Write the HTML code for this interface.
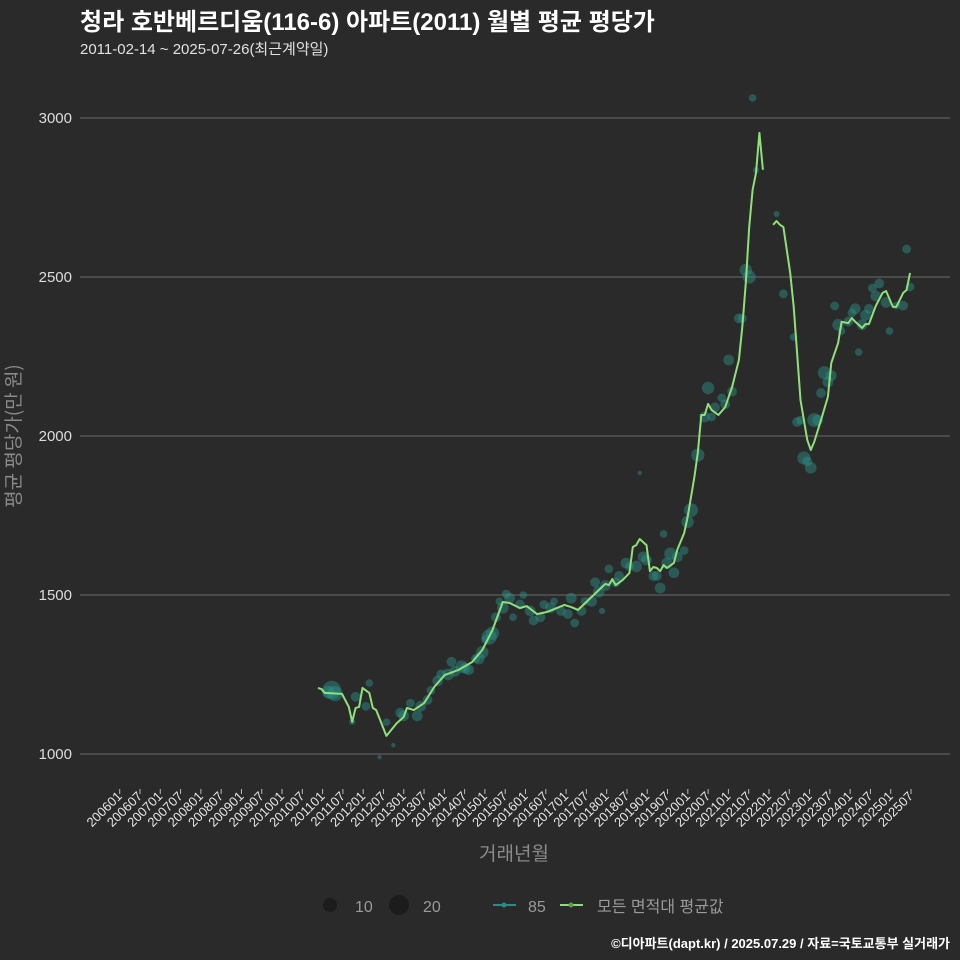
<!DOCTYPE html>
<html><head><meta charset="utf-8">
<style>
html,body{margin:0;padding:0;background:#2b2a2b;}
svg{display:block;font-family:"Liberation Sans","Noto Sans CJK KR",sans-serif;}
</style></head>
<body>
<svg id="chart" width="960" height="960" viewBox="0 0 960 960">
<rect width="960" height="960" fill="#2b2a2b"/>
<text x="80" y="30" fill="#ffffff" font-size="24" font-weight="bold">청라 호반베르디움(116-6) 아파트(2011) 월별 평균 평당가</text>
<text x="80" y="54" fill="#e0e0e0" font-size="15">2011-02-14 ~ 2025-07-26(최근계약일)</text>
<g id="grid"></g>
<g id="yticks"></g>
<g id="xticks"></g>
<g id="bubbles"></g>
<g id="lines"></g>
<text transform="translate(20,436) rotate(-90)" text-anchor="middle" fill="#8a8a8a" font-size="19" font-family="Noto Sans CJK KR, sans-serif">평균 평당가(만 원)</text>
<text x="514" y="860" text-anchor="middle" fill="#8a8a8a" font-size="19">거래년월</text>
<g>
<circle cx="330" cy="905" r="7" fill="#1c1c1c"/>
<text x="355" y="912" fill="#9a9a9a" font-size="16">10</text>
<circle cx="399" cy="905" r="10" fill="#1c1c1c"/>
<text x="423" y="912" fill="#9a9a9a" font-size="16">20</text>
<line x1="493" y1="905" x2="516" y2="905" stroke="#21908d" stroke-width="2"/>
<circle cx="504" cy="905" r="2.5" fill="#21908d"/>
<text x="528" y="912" fill="#9a9a9a" font-size="16">85</text>
<line x1="560" y1="905" x2="583" y2="905" stroke="#8fe07a" stroke-width="2"/>
<circle cx="571" cy="905" r="2.5" fill="#5aa04a"/>
<text x="597" y="912" fill="#9a9a9a" font-size="16">모든 면적대 평균값</text>
</g>
<text x="950" y="948" text-anchor="end" fill="#ffffff" font-size="13" font-weight="bold">©디아파트(dapt.kr) / 2025.07.29 / 자료=국토교통부 실거래가</text>
</svg>
<script>
const yTicks = [1000, 1500, 2000, 2500, 3000];
const xTickLabels = ["200601","200607","200701","200707","200801","200807","200901","200907","201001","201007","201101","201107","201201","201207","201301","201307","201401","201407","201501","201507","201601","201607","201701","201707","201801","201807","201901","201907","202001","202007","202101","202107","202201","202207","202301","202307","202401","202407","202501","202507"];
const lineMonths = ["2011-02","2011-03","2011-04","2011-09","2011-11","2011-12","2012-01","2012-02","2012-03","2012-05","2012-06","2012-07","2012-10","2013-01","2013-03","2013-04","2013-06","2013-09","2013-12","2014-03","2014-07","2014-11","2015-02","2015-05","2015-08","2015-10","2016-01","2016-03","2016-06","2016-09","2017-02","2017-04","2017-06","2017-09","2018-01","2018-02","2018-03","2018-04","2018-05","2018-07","2018-09","2018-10","2018-11","2018-12","2019-02","2019-03","2019-04","2019-05","2019-06","2019-07","2019-08","2019-10","2019-11","2020-01","2020-02","2020-03","2020-04","2020-05","2020-06","2020-07","2020-08","2020-09","2020-11","2021-01","2021-03","2021-05","2021-06","2021-07","2021-08","2021-09","2021-10","2021-11","2021-12","2022-01","2022-03","2022-04","2022-05","2022-06","2022-07","2022-08","2022-09","2022-10","2022-11","2023-01","2023-02","2023-03","2023-05","2023-07","2023-08","2023-10","2023-11","2024-01","2024-02","2024-03","2024-05","2024-06","2024-07","2024-09","2024-11","2024-12","2025-02","2025-03","2025-05","2025-06","2025-07"];
const lineValues = [1208,1204,1192,1189,1148,1101,1145,1148,1208,1192,1145,1138,1057,1097,1116,1145,1138,1160,1211,1248,1264,1289,1327,1390,1478,1475,1459,1465,1440,1447,1469,1462,1453,1484,1525,1535,1531,1550,1531,1547,1569,1651,1657,1676,1657,1575,1588,1585,1575,1594,1585,1601,1642,1695,1745,1808,1871,1947,2066,2066,2101,2082,2066,2091,2154,2239,2343,2481,2657,2774,2827,2953,2837,null,2664,2676,2664,2657,2585,2513,2406,2261,2113,1987,1956,1981,2050,2123,2230,2292,2359,2355,2371,2359,2340,2352,2352,2409,2450,2456,2406,2406,2450,2459,2513];
const bubbleMonths = ["2011-05","2011-06","2011-07","2011-12","2012-05","2012-08","2012-10","2012-12","2013-03","2013-05","2013-07","2013-11","2014-02","2014-05","2014-09","2014-12","2015-03","2015-04","2015-06","2015-07","2015-09","2015-11","2016-02","2016-05","2016-08","2016-11","2017-03","2017-05","2017-08","2017-11","2018-01","2018-03","2018-06","2018-09","2018-12","2019-01","2019-04","2019-06","2019-07","2019-09","2019-10","2020-01","2020-03","2020-05","2020-08","2020-09","2020-12","2021-02","2021-05","2021-07","2021-08","2021-09","2021-10","2022-04","2022-06","2022-09","2022-10","2022-12","2023-02","2023-03","2023-05","2023-06","2023-07","2023-09","2023-11","2024-02","2024-04","2024-06","2024-08","2024-10","2025-01","2025-03","2025-06","2025-07",
"2012-01","2012-04","2013-02","2013-08","2013-10","2014-01","2014-04","2014-06","2014-08","2014-10","2015-01","2015-02","2015-05","2015-08","2015-10","2016-01","2016-04","2016-07","2016-10","2017-01","2017-04","2017-07","2017-10","2017-12","2018-02","2018-05","2018-08","2018-11","2019-02","2019-05","2019-08","2019-11","2020-02","2020-07","2020-10","2021-01","2021-03","2021-06","2022-11","2023-01","2023-04","2023-08","2023-10","2024-01","2024-03","2024-05","2024-07","2024-09","2024-12","2025-05"];
const bubbleValues = [1195,1201,1190,1101,1223,990,1100,1028,1120,1160,1120,1200,1250,1290,1270,1300,1360,1368,1430,1480,1503,1430,1500,1420,1470,1480,1440,1412,1480,1540,1450,1582,1560,1590,1884,1620,1560,1522,1692,1630,1570,1640,1767,1940,2151,2060,2120,2239,2370,2522,2500,3063,2836,2698,2447,2311,2044,1931,1900,2050,2135,2199,2170,2409,2330,2387,2264,2380,2465,2480,2330,2410,2588,2469,
1180,1150,1130,1150,1170,1230,1250,1260,1275,1265,1300,1320,1380,1460,1490,1470,1450,1430,1460,1450,1490,1450,1480,1510,1530,1540,1600,1590,1610,1560,1600,1620,1730,2060,2090,2100,2140,2370,2050,1920,2050,2190,2350,2360,2400,2350,2400,2440,2420,2410];
const bubbleCounts = [8,18,12,2,3,1,3,1,6,4,6,4,5,5,6,4,4,12,5,3,4,3,3,5,4,3,5,4,4,5,2,4,5,4,1,6,5,6,3,8,6,4,10,9,8,4,4,6,5,8,9,3,2,2,4,3,5,9,7,10,5,9,6,4,3,4,3,6,4,5,3,3,4,4,
5,4,5,6,5,6,7,6,8,6,7,8,9,7,6,5,6,5,6,5,6,5,6,7,6,5,6,7,6,5,7,6,8,6,5,5,5,4,4,5,6,6,7,5,6,6,5,6,6,5];

const NS = "http://www.w3.org/2000/svg";
const X0 = 80, X1 = 950;
function yScale(v){ return 754 - (v - 1000) * 0.318; }
function tickX(i){ return 119.7 + i * 20.29; }
function monthIndex(s){ const p = s.split("-"); return (+p[0] - 2011) * 12 + (+p[1] - 2); }
function xScale(s){ return 318 + monthIndex(s) * 3.422; }
function mk(tag, attrs, parent){ const e = document.createElementNS(NS, tag); for (const k in attrs) e.setAttribute(k, attrs[k]); parent.appendChild(e); return e; }

const grid = document.getElementById("grid"), yt = document.getElementById("yticks"), xt = document.getElementById("xticks");
yTicks.forEach(v => {
  const y = yScale(v);
  const l = mk("line", {x1: X0, x2: X1, y1: y, y2: y, stroke: "#6a6a6a", "stroke-width": 1}, grid);
  
  
  const t = mk("text", {x: 72, y: y + 5, "text-anchor": "end", fill: "#dcdcdc", "font-size": 15}, yt);
  t.textContent = v;
  
  
});
xTickLabels.forEach((lab, i) => {
  const x = tickX(i);
  const tk = mk("line", {x1: x, x2: x, y1: 789, y2: 794, stroke: "#bbbbbb", "stroke-width": 1}, xt);
  
  
  const t = mk("text", {transform: `translate(${x+3},797) rotate(-45)`, "text-anchor": "end", fill: "#e6e6e6", "font-size": 13}, xt);
  t.textContent = lab;
  
  
});

const bg = document.getElementById("bubbles");
bubbleMonths.forEach((m, i) => {
  const c = mk("circle", {cx: xScale(m), cy: yScale(bubbleValues[i]), r: 2.2 * Math.sqrt(bubbleCounts[i]), fill: "#2a9a8e", "fill-opacity": 0.42}, bg);
  
  
});

const lg = document.getElementById("lines");
let segs = [], cur = [];
lineMonths.forEach((m, i) => {
  const v = lineValues[i];
  if (v === null) { if (cur.length) segs.push(cur); cur = []; return; }
  cur.push([xScale(m), yScale(v)]);
});
if (cur.length) segs.push(cur);
segs.forEach((s, i) => {
  const p = mk("path", {d: "M" + s.map(q => q[0].toFixed(1) + "," + q[1].toFixed(1)).join("L"), fill: "none", stroke: "#8fe07a", "stroke-width": 2, "stroke-linejoin": "round"}, lg);
  
  
});
</script>
</body></html>
